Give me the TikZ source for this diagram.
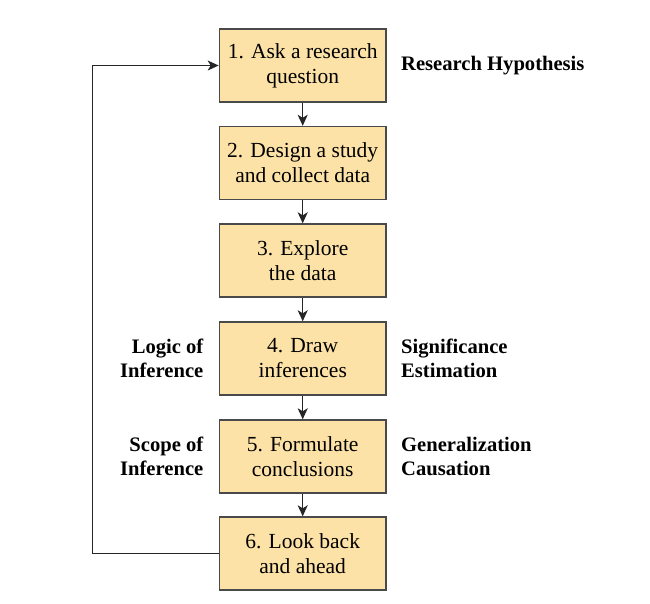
\documentclass[tikz,border=0pt]{standalone}
\usepackage{fontspec}
\setmainfont{Liberation Serif}[BoldFont={Liberation Serif Bold}]
\usetikzlibrary{arrows.meta}
\definecolor{boxfill}{HTML}{FCE2A6}
\definecolor{boxline}{HTML}{4A4A4A}
\tikzset{
  stepbox/.style={draw=boxline, fill=boxfill, line width=1.4pt, minimum width=166.7pt, minimum height=73pt, align=center, inner sep=2pt, font=\rmfamily\fontsize{21.5}{25}\selectfont},
  sidelabel/.style={font=\rmfamily\fontsize{20.6}{24.5}\selectfont\bfseries, inner sep=0pt},
  flow/.style={-{Stealth[length=11pt,width=10pt,inset=3pt]}, line width=1.3pt, draw=black!85}
}
\begin{document}
\begin{tikzpicture}[x=1pt,y=-1pt]
\useasboundingbox (0,0) rectangle (650,604);
\node[stepbox] (s1) at (302.7,65.5) {1. Ask a research\\question};
\node[stepbox] (s2) at (302.7,163) {2. Design a study\\and collect data};
\node[stepbox] (s3) at (302.7,260.5) {3. Explore\\the data};
\node[stepbox] (s4) at (302.7,358.5) {4. Draw\\inferences};
\node[stepbox] (s5) at (302.7,456.5) {5. Formulate\\conclusions};
\node[stepbox] (s6) at (302.7,553.5) {6. Look back\\and ahead};
\draw[flow] (s1) -- (s2);
\draw[flow] (s2) -- (s3);
\draw[flow] (s3) -- (s4);
\draw[flow] (s4) -- (s5);
\draw[flow] (s5) -- (s6);
\coordinate (fb1) at (92.7,553.5);
\coordinate (fb2) at (92.7,65.5);
\draw[flow] (s6.west) -- (fb1) -- (fb2) -- (s1.west);
\node[sidelabel, anchor=west, align=left] (rh) at (401,66) {Research Hypothesis};
\node[sidelabel, anchor=west, align=left] (se) at (401,358.5) {Significance\\Estimation};
\node[sidelabel, anchor=west, align=left] (gc) at (401,456.5) {Generalization\\Causation};
\node[sidelabel, anchor=east, align=right] (li) at (203.5,358.5) {Logic of\\Inference};
\node[sidelabel, anchor=east, align=right] (si) at (203.5,456.5) {Scope of\\Inference};
\end{tikzpicture}
\end{document}
